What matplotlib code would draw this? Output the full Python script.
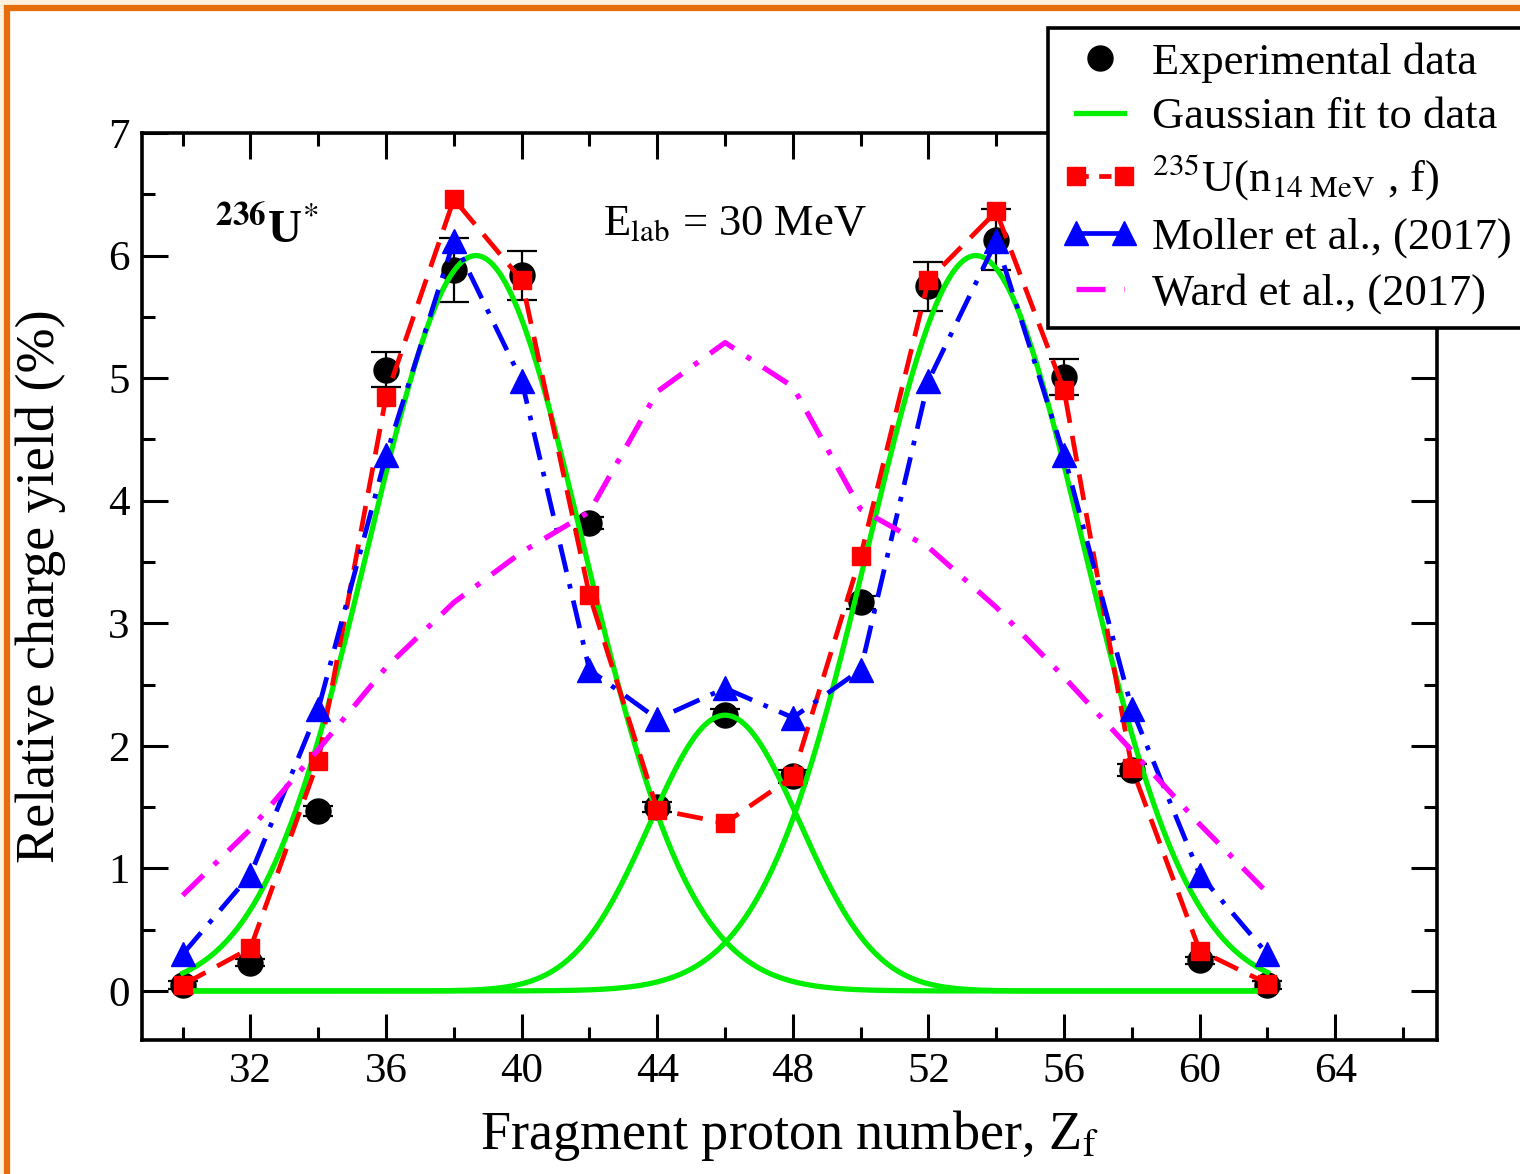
import numpy as np
import matplotlib
matplotlib.use("Agg")
import matplotlib.pyplot as plt
from matplotlib.lines import Line2D
from matplotlib.patches import Rectangle
from matplotlib.legend_handler import HandlerLine2D
from matplotlib.ticker import MultipleLocator

plt.rcParams['font.family'] = ['Liberation Serif', 'DejaVu Serif']
plt.rcParams['mathtext.fontset'] = 'stix'

# ---- data ----
Z = [30, 32, 34, 36, 38, 40, 42, 44, 46, 48, 50, 52, 54, 56, 58, 60, 62]
exp_yield = [0.05, 0.23, 1.47, 5.07, 5.88, 5.84, 3.82, 1.50, 2.25, 1.75, 3.17, 5.75, 6.13, 5.01, 1.80, 0.25, 0.05]
exp_err = [0.03, 0.03, 0.04, 0.14, 0.26, 0.20, 0.05, 0.04, 0.05, 0.05, 0.05, 0.20, 0.25, 0.15, 0.05, 0.03, 0.03]
u235_yield = [0.05, 0.35, 1.88, 4.85, 6.46, 5.80, 3.23, 1.48, 1.37, 1.75, 3.55, 5.80, 6.36, 4.90, 1.82, 0.33, 0.06]
moller_yield = [0.30, 0.95, 2.30, 4.37, 6.12, 4.98, 2.62, 2.22, 2.47, 2.23, 2.62, 4.98, 6.12, 4.37, 2.30, 0.95, 0.30]
ward_yield = [0.78, 1.32, 1.97, 2.64, 3.17, 3.58, 3.91, 4.89, 5.29, 4.93, 3.93, 3.62, 3.13, 2.56, 1.96, 1.36, 0.80]

# Gaussian fit parameters (amplitude, centroid, width) for the three components
gauss_amp = [6.0, 2.25, 6.0]
gauss_cen = [38.65, 46.0, 53.4]
gauss_sig = [3.17, 2.22, 3.17]

xticks_major = [32, 36, 40, 44, 48, 52, 56, 60, 64]

# ---- figure ----
W, H = 1520, 1174
fig = plt.figure(figsize=(W / 100, H / 100), dpi=100)
fig.patch.set_facecolor('#FDF1DE')
orange = '#E56D0B'
border = Rectangle((7 / W, -0.2), 1.5, (1 - 8 / H) + 0.2, transform=fig.transFigure,
                   facecolor='white', edgecolor=orange, linewidth=4.5, zorder=-10, clip_on=False)
fig.patches.append(border)

ax = fig.add_axes([142 / W, 1 - 1040 / H, (1437 - 142) / W, (1040 - 133) / H])
ax.set_xlim(28.8, 67.0)
ax.set_ylim(-0.4, 7.0)

lw = 3.4
red_dash = (5.5, 2.8)
blue_dash = (6.0, 2.6, 1.0, 2.6)
pink_dash = (5.5, 2.8, 1.0, 2.8)

# experimental data
ax.errorbar(Z, exp_yield, yerr=exp_err, fmt='o', color='black', ms=18, elinewidth=1.6,
            capsize=11, capthick=1.6, ecolor='black', zorder=2)

# Gaussian fits
zz = np.linspace(Z[0], Z[-1], 400)
for a, c, s in zip(gauss_amp, gauss_cen, gauss_sig):
    ax.plot(zz, a * np.exp(-(zz - c) ** 2 / (2 * s ** 2)), color='#00EE00', lw=3.8, zorder=3)

# 235U(n14MeV,f)
ax.plot(Z, u235_yield, color='#FF0000', lw=lw, dashes=red_dash, marker='s', ms=13,
        mec='#FF0000', mfc='#FF0000', zorder=4)
# Moller
ax.plot(Z, moller_yield, color='#0000FF', lw=lw, dashes=blue_dash, marker='^', ms=17,
        mec='#0000FF', mfc='#0000FF', zorder=5)
# Ward
ax.plot(Z, ward_yield, color='#FF00FF', lw=lw + 0.4, dashes=pink_dash, zorder=6)

# ticks
ax.set_xticks(xticks_major)
ax.xaxis.set_minor_locator(MultipleLocator(2))
ax.yaxis.set_minor_locator(MultipleLocator(0.5))
ax.set_yticks(range(0, 8))
ax.tick_params(which='both', direction='in', top=True, right=True, width=2.2, labelsize=31)
ax.tick_params(which='major', length=19, pad=9)
ax.tick_params(which='minor', length=9.5)
for sp in ax.spines.values():
    sp.set_linewidth(2.6)

ax.set_xlabel(r'Fragment proton number, Z$_\mathrm{f}$', fontsize=39, labelpad=12)
ax.set_ylabel('Relative charge yield (%)', fontsize=39, labelpad=30)

ax.text(30.95, 6.1, r'$^{\mathbf{236}}$U$^{*}$', fontsize=34, fontweight='bold', va='baseline')
ax.text(42.4, 6.17, r'E$_\mathrm{lab}$ = 30 MeV', fontsize=32, va='baseline')

# legend
h_exp = Line2D([], [], ls='none', marker='o', color='black', ms=18)
h_gau = Line2D([], [], color='#00EE00', lw=3.8)
h_u = Line2D([], [], color='#FF0000', lw=lw, dashes=(2.6, 2.2), marker='s', ms=13)
h_m = Line2D([], [], color='#0000FF', lw=lw, marker='^', ms=17)
h_w = Line2D([], [], color='#FF00FF', lw=lw + 0.4, dashes=(5.5, 3.5, 1.8, 6))
leg = fig.legend([h_exp, h_gau, h_u, h_m, h_w],
                 ['Experimental data', 'Gaussian fit to data',
                  r'$^{235}$U(n$_{14\ \mathrm{MeV}}$ , f)',
                  'Moller et al., (2017)', 'Ward et al., (2017)'],
                 loc='upper left', bbox_to_anchor=(1048 / W, 1 - 28 / H),
                 fontsize=32, numpoints=2, handlelength=1.7, handletextpad=0.33,
                 labelspacing=0.33, borderpad=0.32, borderaxespad=0,
                 fancybox=False, framealpha=1, edgecolor='black',
                 handler_map={h_exp: HandlerLine2D(numpoints=1)})
leg.get_frame().set_linewidth(2.6)

fig.savefig('out.png', dpi=100, facecolor=fig.get_facecolor())
